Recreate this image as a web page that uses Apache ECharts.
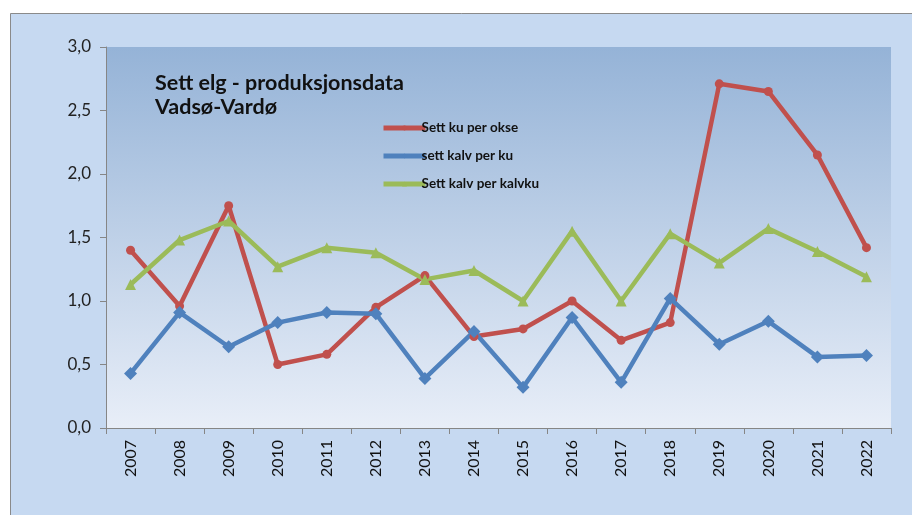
<!DOCTYPE html>
<html>
<head>
<meta charset="utf-8">
<script src="https://cdn.jsdelivr.net/npm/echarts@6/dist/echarts.min.js"></script>
<style>
  html, body { margin: 0; padding: 0; background: #fff; }
  #chartLine { width: 912px; height: 515px; }
</style>
</head>
<body>
<div id="chartLine"></div>
<script>
const years = ["2007", "2008", "2009", "2010", "2011", "2012", "2013", "2014",
  "2015", "2016", "2017", "2018", "2019", "2020", "2021", "2022"];
const kuPerOkse = [1.40, 0.96, 1.75, 0.50, 0.58, 0.95, 1.20, 0.72,
  0.78, 1.00, 0.69, 0.83, 2.71, 2.65, 2.15, 1.42];
const kalvPerKu = [0.43, 0.91, 0.64, 0.83, 0.91, 0.90, 0.39, 0.76,
  0.32, 0.87, 0.36, 1.02, 0.66, 0.84, 0.56, 0.57];
const kalvPerKalvku = [1.13, 1.48, 1.63, 1.27, 1.42, 1.38, 1.17, 1.24,
  1.00, 1.55, 1.00, 1.53, 1.30, 1.57, 1.39, 1.19];

const font = "Lato";

function lineSeries(name, data, color, symbol, size) {
  return {
    name: name,
    type: "line",
    data: data,
    symbol: symbol,
    symbolSize: size,
    lineStyle: {color: color, width: 4.5},
    itemStyle: {color: color},
    emphasis: {disabled: true}
  };
}

const chartLine = echarts.init(document.getElementById("chartLine"));
chartLine.setOption({
  animation: false,
  textStyle: {fontFamily: font},
  graphic: [{
    type: "rect",
    z: -10,
    silent: true,
    shape: {x: 10.5, y: 13.5, width: 920, height: 520},
    style: {fill: "#c6d9f1", stroke: "#8a8a8a", lineWidth: 1}
  }],
  title: {
    text: "Sett elg - produksjonsdata\nVadsø-Vardø",
    left: 150,
    top: 66,
    textStyle: {fontFamily: font, fontSize: 21.5, fontWeight: "bold", color: "#111", lineHeight: 24}
  },
  legend: {
    orient: "vertical",
    left: 376,
    top: 116,
    itemWidth: 42,
    itemHeight: 6,
    itemGap: 14,
    lineStyle: {width: 5},
    textStyle: {fontFamily: font, fontSize: 13.5, fontWeight: "bold", color: "#111", padding: [0, 0, 0, -9]},
    data: ["Sett ku per okse", "sett kalv per ku", "Sett kalv per kalvku"]
  },
  grid: {
    left: 106,
    right: 21,
    top: 47,
    bottom: 87,
    show: true,
    borderWidth: 0,
    backgroundColor: new echarts.graphic.LinearGradient(0, 0, 0, 1, [
      {offset: 0, color: "#95b3d7"},
      {offset: 1, color: "#e8eef8"}
    ])
  },
  xAxis: {
    type: "category",
    data: years,
    boundaryGap: true,
    axisLine: {lineStyle: {color: "#868686"}},
    axisTick: {show: true, length: 6, lineStyle: {color: "#868686"}},
    axisLabel: {rotate: 90, fontSize: 16, color: "#111", margin: 12}
  },
  yAxis: {
    type: "value",
    min: 0,
    max: 3,
    interval: 0.5,
    axisLine: {show: true, lineStyle: {color: "#868686"}},
    axisTick: {show: true, length: 6, lineStyle: {color: "#868686"}},
    splitLine: {show: false},
    axisLabel: {
      fontSize: 17,
      color: "#222",
      margin: 15,
      formatter: v => v.toFixed(1).replace(".", ",")
    }
  },
  series: [
    lineSeries("Sett ku per okse", kuPerOkse, "#c0504d", "circle", 9),
    lineSeries("sett kalv per ku", kalvPerKu, "#4f81bd", "diamond", 13),
    lineSeries("Sett kalv per kalvku", kalvPerKalvku, "#9bbb59", "triangle", 11)
  ]
});
</script>
</body>
</html>
